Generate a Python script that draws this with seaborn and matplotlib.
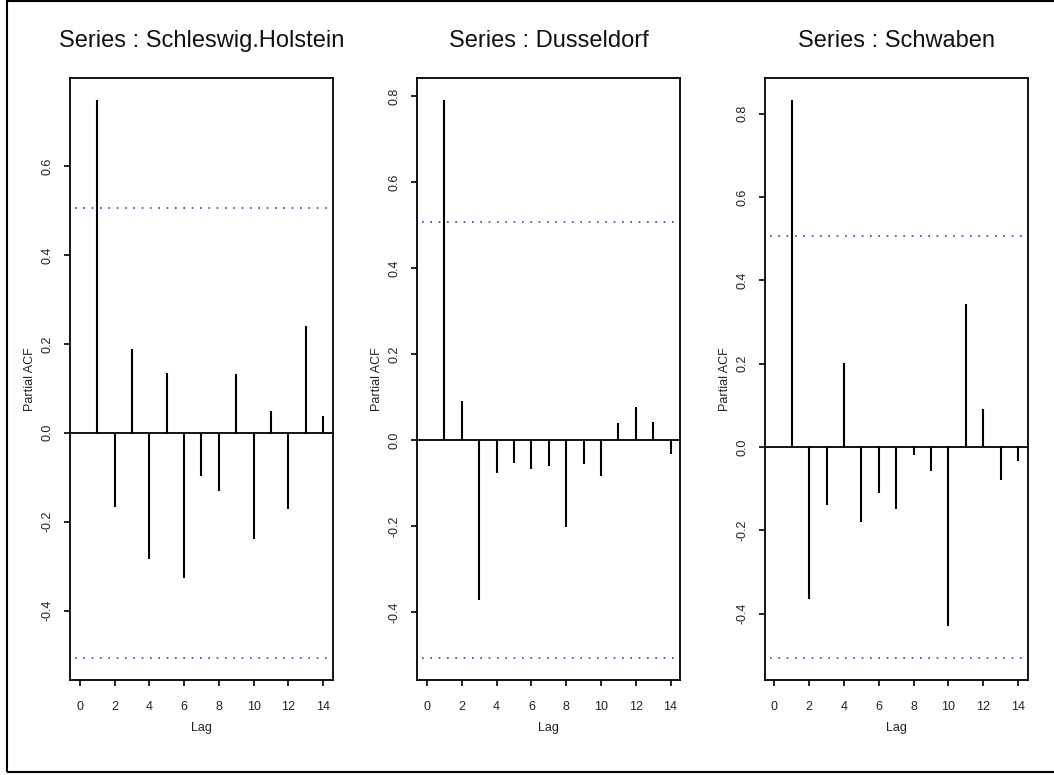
"""
Partial autocorrelation plots for three regional series, R-style panels.
"""
import numpy as np
import matplotlib
matplotlib.use("Agg")
import matplotlib.pyplot as plt
import seaborn as sns
from matplotlib.patches import Rectangle
from matplotlib.ticker import MultipleLocator, FormatStrFormatter

# Lags and partial autocorrelations
lags = list(range(1, 15))
titles = ["Series : Schleswig.Holstein", "Series : Dusseldorf", "Series : Schwaben"]
pacf_schleswig = [0.748, -0.167, 0.189, -0.284, 0.134, -0.327, -0.098,
                  -0.130, 0.132, -0.238, 0.048, -0.171, 0.240, 0.037]
pacf_dusseldorf = [0.790, 0.091, -0.371, -0.077, -0.053, -0.067, -0.061,
                   -0.202, -0.056, -0.083, 0.039, 0.078, 0.042, -0.032]
pacf_schwaben = [0.832, -0.365, -0.139, 0.201, -0.181, -0.110, -0.149,
                 -0.020, -0.058, -0.431, 0.342, 0.091, -0.079, -0.035]
ci = 0.506  # 1.96 / sqrt(15)

sns.set_theme(style="white")
plt.rcParams['font.family'] = ['Liberation Sans', 'DejaVu Sans']

fig = plt.figure(figsize=(10.54, 7.75), dpi=100)

lefts = [70 / 1054, 417.3 / 1054, 764.7 / 1054]
series = [pacf_schleswig, pacf_dusseldorf, pacf_schwaben]

for left, title, vals in zip(lefts, titles, series):
    ax = fig.add_axes([left, 0.1226, 0.2495, 0.7768])
    ax.vlines(lags, 0, vals, color='black', lw=1.5)
    ax.axhline(0, color='black', lw=1.3)
    for c in (ci, -ci):
        ax.axhline(c, color='#1f4f9c', lw=1.2, linestyle=(2, (1, 4)))

    # R-style axis limits: 4% expansion on both ends
    lo = min(min(vals), -ci)
    hi = max(max(vals), ci)
    pad = (hi - lo) * 0.04
    ax.set_ylim(lo - pad, hi + pad)
    ax.set_xlim(-0.56, 14.56)

    ax.xaxis.set_major_locator(MultipleLocator(2))
    ax.yaxis.set_major_locator(MultipleLocator(0.2))
    ax.yaxis.set_major_formatter(FormatStrFormatter('%.1f'))
    ax.tick_params(axis='both', direction='out', length=4, width=1.2,
                   color='black', labelsize=9, labelcolor='#222222',
                   bottom=True, left=True)
    ax.tick_params(axis='x', pad=11)
    ax.tick_params(axis='y', pad=8)
    for lab in ax.get_yticklabels():
        lab.set_rotation(90)
        lab.set_va('center')

    for sp in ax.spines.values():
        sp.set_visible(True)
        sp.set_color('black')
        sp.set_linewidth(1.3)

    ax.set_xlabel('Lag', fontsize=9, color='#222222')
    ax.set_ylabel('Partial ACF', fontsize=9, color='#222222')
    ax.xaxis.set_label_coords(0.5, -0.07)
    ax.yaxis.set_label_coords(-0.13, 0.5)
    ax.set_title(title, fontsize=17, color='#111111', pad=22)
    ax.grid(False)

# outer frame around the whole figure
fig.patches.append(Rectangle((0.0066, 0.004), 1.0, 0.995, transform=fig.transFigure,
                             fill=False, edgecolor='black', lw=1.5))

plt.savefig('out.png', dpi=100)
